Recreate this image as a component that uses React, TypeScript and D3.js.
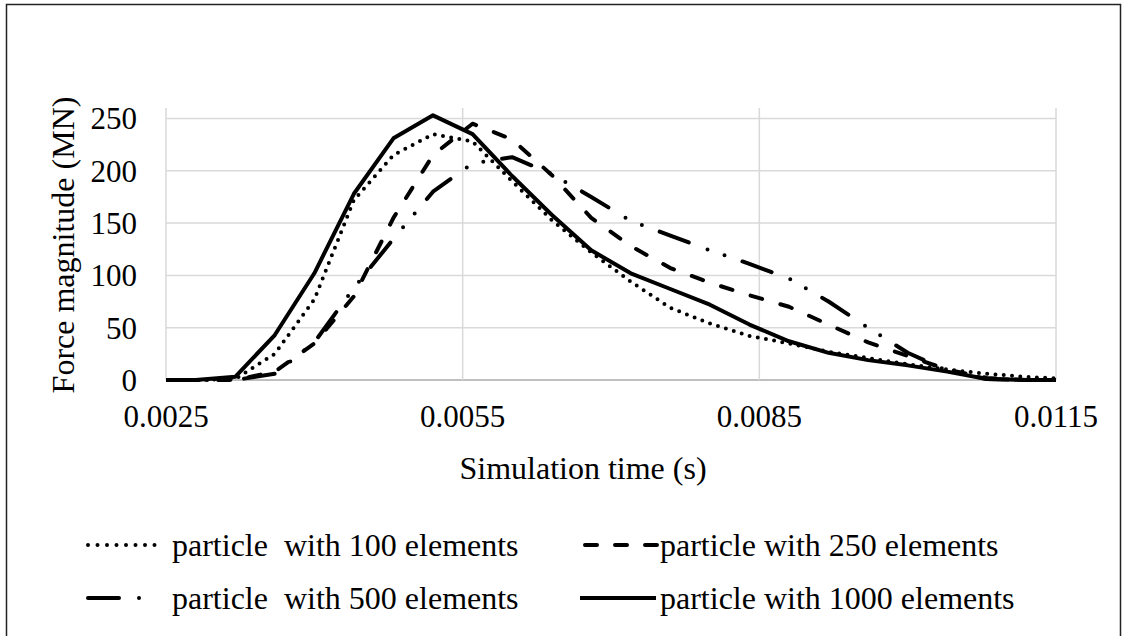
import React from "react";
import * as d3 from "d3";

// simulation time (s), sampled every 0.4 ms
const times = [
  0.0024, 0.0028, 0.0032, 0.0036, 0.004, 0.0044, 0.0048, 0.0052, 0.0056, 0.006,
  0.0064, 0.0068, 0.0072, 0.0076, 0.008, 0.0084, 0.0088, 0.0092, 0.0096, 0.01,
  0.0104, 0.0108, 0.0112, 0.0116,
];

// force magnitude (MN)
const elem100 = [0, 0, 1, 25, 77, 172, 215, 235, 228, 190, 153, 122, 94, 69, 54, 42, 35, 27, 21, 15, 10, 6, 3, 1];
const elem250 = [0, 0, 0, 8, 35, 80, 155, 215, 245, 230, 196, 155, 128, 107, 93, 81, 70, 53, 36, 23, 10, 2, 0, 0];
const elem500 = [0, 0, 0, 6, 36, 88, 135, 180, 207, 213, 197, 175, 152, 138, 124, 111, 97, 75, 50, 26, 9, 1, 0, 0];
const elem1000 = [0, 0, 3, 43, 102, 178, 231, 253, 235, 195, 158, 124, 102, 87, 72, 53, 37, 26, 19, 14, 8, 1, 0, 0];

const xTicks = [0.0025, 0.0055, 0.0085, 0.0115];
const yTicks = [0, 50, 100, 150, 200, 250];

const legendNames = [
  "particle  with 100 elements",
  "particle with 250 elements",
  "particle  with 500 elements",
  "particle with 1000 elements",
];

const W = 1127;
const H = 636;
const font = "Liberation Serif";

const styles = [
  { dash: "0 8.3", legendDash: "0 9.5", cap: "round" },
  { dash: "12 19", legendDash: "12 18", cap: "round" },
  { dash: "31 20 0 18 0 19", legendDash: "31 20 0 18 0 19", cap: "round" },
  { dash: "none", legendDash: "none", cap: "butt" },
];

const App = () => {
  const x = d3.scaleLinear().domain([0.0025, 0.0115]).range([166, 1056]);
  const y = d3.scaleLinear().domain([0, 260]).range([380, 108]);

  const seriesData = [elem100, elem250, elem500, elem1000];
  const line = d3
    .line<number>()
    .x((d, i) => x(times[i]))
    .y((d) => y(d));

  // legend placement: two columns, two rows
  const legendPos = [
    { x0: 88, x1: 158, tx: 172, cy: 545 },
    { x0: 585, x1: 657, tx: 660, cy: 545 },
    { x0: 88, x1: 156, tx: 172, cy: 598 },
    { x0: 580, x1: 656, tx: 660, cy: 598 },
  ];

  const txt = { fontFamily: font, whiteSpace: "pre" as const };

  return (
    <svg
      width={W}
      height={H}
      style={{ position: "absolute", left: 0, top: 0, background: "#fff", fontFamily: font }}
    >
      <defs>
        <clipPath id="plotClip">
          <rect x={166} y={0} width={890} height={400} />
        </clipPath>
      </defs>
      <rect x={6.5} y={4.5} width={1114} height={660} fill="#fff" stroke="#222" strokeWidth={1.5} />

      {/* gridlines */}
      {yTicks.map((t) => (
        <line key={"gy" + t} x1={166} x2={1056} y1={y(t)} y2={y(t)} stroke={t === 0 ? "#bfbfbf" : "#d9d9d9"} strokeWidth={t === 0 ? 2 : 1.5} />
      ))}
      {xTicks.map((t) => (
        <line key={"gx" + t} x1={x(t)} x2={x(t)} y1={y(260)} y2={y(0)} stroke="#d9d9d9" strokeWidth={1.5} />
      ))}

      {/* y tick labels */}
      {yTicks.map((t) => (
        <text key={"ty" + t} x={137} y={y(t)} dy="0.35em" textAnchor="end" fontSize={31} fill="#000" style={txt}>
          {t}
        </text>
      ))}
      {/* x tick labels */}
      {xTicks.map((t) => (
        <text key={"tx" + t} x={x(t)} y={427} textAnchor="middle" fontSize={31} fill="#000" style={txt}>
          {d3.format(".4f")(t)}
        </text>
      ))}

      <text x={583} y={468} dy="0.35em" textAnchor="middle" fontSize={32} style={txt}>
        Simulation time (s)
      </text>
      <text transform="translate(63,245) rotate(-90)" dy="0.35em" textAnchor="middle" fontSize={32} style={txt}>
        Force magnitude (MN)
      </text>

      {/* series */}
      <g clipPath="url(#plotClip)">
        {seriesData.map((s, i) => (
          <path
            key={"s" + i}
            d={line(s) || ""}
            fill="none"
            stroke="#000"
            strokeWidth={4}
            strokeDasharray={styles[i].dash}
            strokeLinecap={styles[i].cap as any}
            strokeLinejoin="round"
          />
        ))}
      </g>

      {/* legend */}
      {legendNames.map((name, i) => {
        const p = legendPos[i];
        return (
          <g key={"lg" + i}>
            <line
              x1={p.x0}
              x2={p.x1}
              y1={p.cy}
              y2={p.cy}
              stroke="#000"
              strokeWidth={4}
              strokeDasharray={styles[i].legendDash}
              strokeLinecap={styles[i].cap as any}
            />
            <text x={p.tx} y={p.cy} dy="0.35em" fontSize={32} style={txt}>
              {name}
            </text>
          </g>
        );
      })}
    </svg>
  );
};

export default App;
